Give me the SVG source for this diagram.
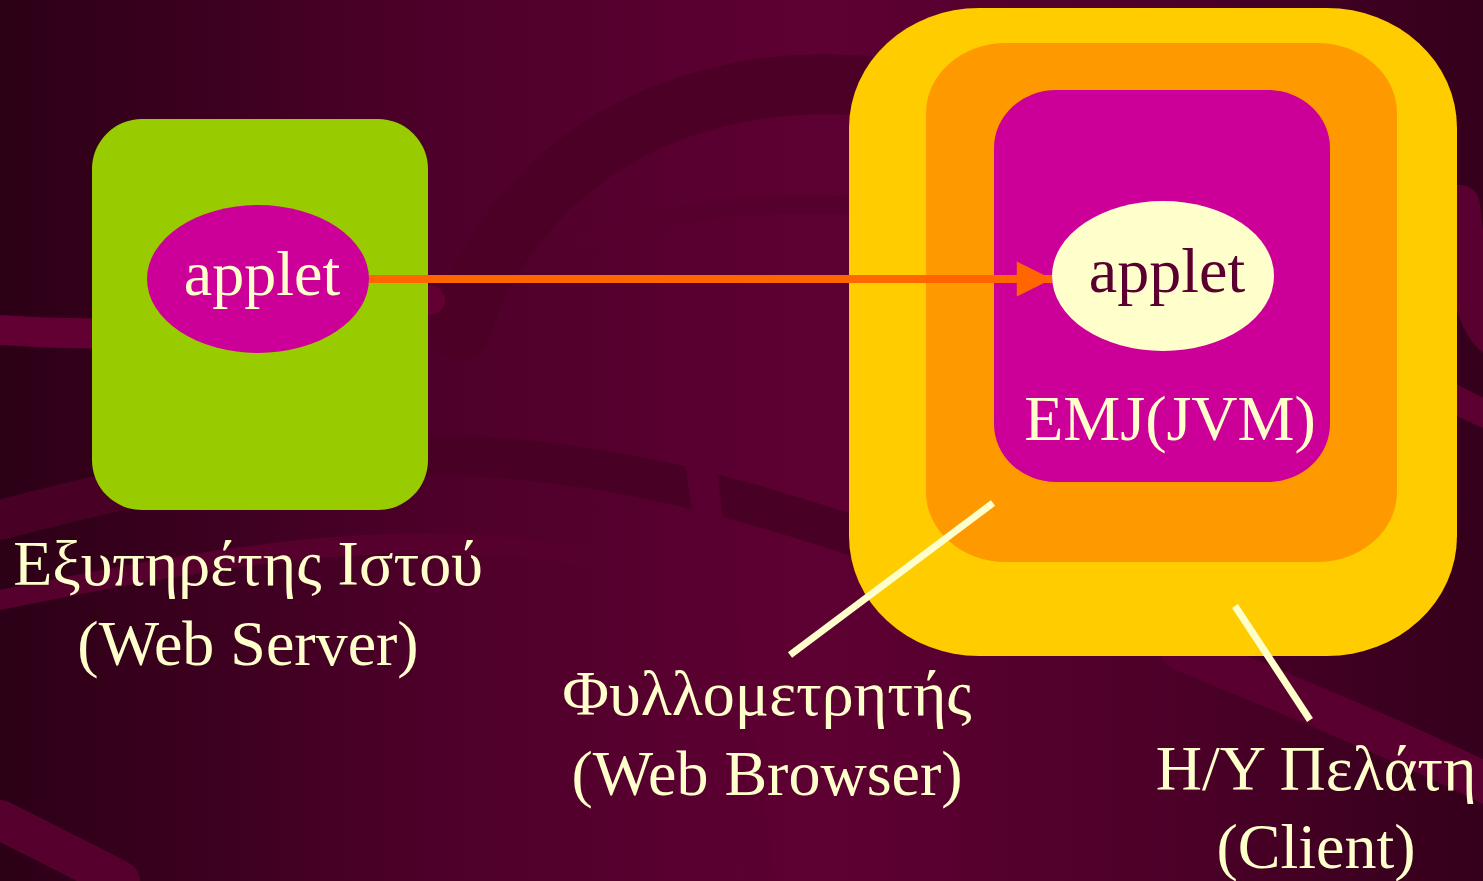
<svg xmlns="http://www.w3.org/2000/svg" width="1483" height="881" viewBox="0 0 1483 881">
<defs>
<linearGradient id="bg" x1="0" y1="0" x2="1" y2="0">
<stop offset="0" stop-color="#2c0016"/>
<stop offset="0.3" stop-color="#4e002a"/>
<stop offset="0.55" stop-color="#5e0033"/>
<stop offset="0.8" stop-color="#4c0028"/>
<stop offset="1" stop-color="#34001b"/>
</linearGradient>
<marker id="ah" viewBox="0 0 10 10" refX="10" refY="5" markerWidth="4.6" markerHeight="4.4" orient="auto" markerUnits="strokeWidth">
<path d="M0,0 L10,5 L0,10 Z" fill="#FF6600"/>
</marker>
<style>
.lbl{font-family:"Liberation Serif","Times New Roman",serif;font-size:64px;fill:#FFFFCC;text-anchor:middle}
.lead{stroke:#FFFFCC;stroke-width:7;fill:none}
.band{fill:none;stroke-linecap:round}
</style>
</defs>
<rect width="1483" height="881" fill="url(#bg)"/>
<g id="background-swirls">
<path class="band" d="M460,330 C520,150 700,60 900,90" stroke="#4c0026" stroke-width="60"/>
<path class="band" d="M580,240 C700,200 820,200 900,210" stroke="#56002d" stroke-width="18"/>
<path class="band" d="M0,330 C150,340 250,330 430,300" stroke="#620034" stroke-width="30"/>
<path class="band" d="M0,520 C150,480 300,450 440,455 C650,460 800,520 930,560" stroke="#480024" stroke-width="40"/>
<path class="band" d="M0,600 C200,560 400,520 600,560" stroke="#56002e" stroke-width="20"/>
<path class="band" d="M1460,205 C1470,300 1480,330 1500,340" stroke="#58002f" stroke-width="40"/>
<path class="band" d="M1300,300 C1380,360 1450,400 1500,420" stroke="#5c0032" stroke-width="28"/>
<path class="band" d="M1180,650 C1300,700 1400,740 1500,790" stroke="#5a0030" stroke-width="40"/>
<path class="band" d="M0,820 C60,850 100,870 120,881" stroke="#56002e" stroke-width="40"/>
<path class="band" d="M700,460 C720,600 740,750 760,881" stroke="#5a0031" stroke-width="30"/>
</g>
<g id="web-server">
<rect x="92" y="119" width="336" height="391" rx="50" ry="50" fill="#99CC00"/>
</g>
<g id="client">
<rect x="849" y="8" width="608" height="648" rx="130" ry="120" fill="#FFCC00"/>
</g>
<g id="web-browser">
<rect x="926" y="43" width="471" height="519" rx="80" ry="70" fill="#FF9900"/>
</g>
<g id="jvm">
<rect x="994" y="90" width="336" height="392" rx="62" ry="58" fill="#CC0099"/>
<text class="lbl" x="1170" y="440" font-size="62">EMJ(JVM)</text>
</g>
<g id="applet-server">
<ellipse cx="258" cy="279" rx="111" ry="74" fill="#CC0099"/>
<text class="lbl" x="262" y="295">applet</text>
</g>
<g id="applet-client">
<ellipse cx="1163" cy="276" rx="111" ry="75" fill="#FFFFCC"/>
<text class="lbl" x="1167" y="292" style="fill:#5a0030">applet</text>
</g>
<g id="connectors">
<line x1="369" y1="279" x2="1052" y2="279" stroke="#FF6600" stroke-width="8" marker-end="url(#ah)"/>
<line class="lead" x1="993" y1="503" x2="790" y2="655"/>
<line class="lead" x1="1235" y1="606" x2="1310" y2="720"/>
</g>
<g id="labels">
<text class="lbl" x="248" y="585">Εξυπηρέτης Ιστού</text>
<text class="lbl" x="248" y="665">(Web Server)</text>
<text class="lbl" x="767" y="715">Φυλλομετρητής</text>
<text class="lbl" x="767" y="795">(Web Browser)</text>
<text class="lbl" x="1316" y="790">Η/Υ Πελάτη</text>
<text class="lbl" x="1316" y="868">(Client)</text>
</g>
</svg>
